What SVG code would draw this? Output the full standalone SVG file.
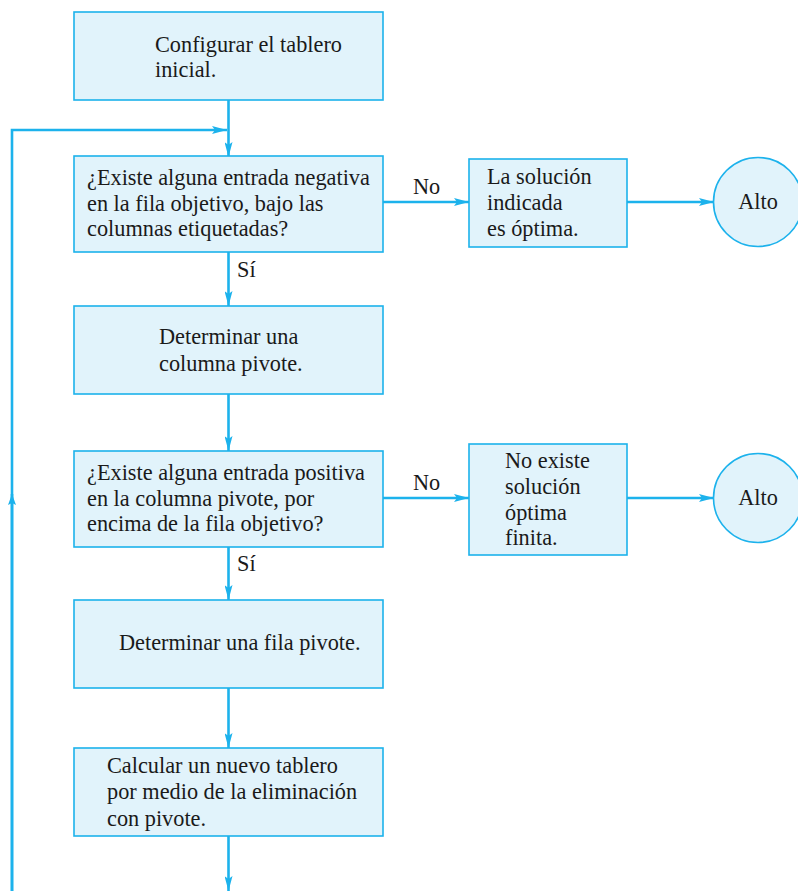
<svg xmlns="http://www.w3.org/2000/svg" width="798" height="891" viewBox="0 0 798 891">
  <style>
    .box { fill: #e1f3fb; stroke: #1cb2ec; stroke-width: 1.6; }
    .wire { fill: none; stroke: #1cb2ec; stroke-width: 2.6; }
    .lbl { font-family: "Liberation Serif", Tinos, "Times New Roman", serif; font-size: 22.3px; fill: #1a1a1a; }
    .mid { text-anchor: middle; }
  </style>
  <defs>
    <marker id="arrow" viewBox="0 0 15 8" refX="15" refY="4" markerWidth="15" markerHeight="8" markerUnits="userSpaceOnUse" orient="auto">
      <path d="M0,0 L15,4 L0,8 L3,4 Z" fill="#1cb2ec"/>
    </marker>
    <marker id="arrow-short" viewBox="0 0 11 8" refX="11" refY="4" markerWidth="11" markerHeight="8" markerUnits="userSpaceOnUse" orient="auto">
      <path d="M0,0 L11,4 L0,8 L2,4 Z" fill="#1cb2ec"/>
    </marker>
  </defs>

  <g id="connectors">
    <line class="wire" x1="228.5" y1="100" x2="228.5" y2="157" marker-end="url(#arrow)"/>
    <polyline class="wire" points="12,891 12,130 227,130" marker-end="url(#arrow)"/>
    <line class="wire" x1="12" y1="891" x2="12" y2="494" marker-end="url(#arrow-short)"/>
    <line class="wire" x1="228.5" y1="252" x2="228.5" y2="306" marker-end="url(#arrow)"/>
    <line class="wire" x1="228.5" y1="394" x2="228.5" y2="451" marker-end="url(#arrow)"/>
    <line class="wire" x1="228.5" y1="547" x2="228.5" y2="600" marker-end="url(#arrow)"/>
    <line class="wire" x1="228.5" y1="688" x2="228.5" y2="748" marker-end="url(#arrow)"/>
    <line class="wire" x1="228.5" y1="836" x2="228.5" y2="891" marker-end="url(#arrow)"/>
    <line class="wire" x1="383" y1="202" x2="469" y2="202" marker-end="url(#arrow)"/>
    <line class="wire" x1="627" y1="202" x2="714" y2="202" marker-end="url(#arrow)"/>
    <line class="wire" x1="383" y1="498" x2="469" y2="498" marker-end="url(#arrow)"/>
    <line class="wire" x1="627" y1="498" x2="714" y2="498" marker-end="url(#arrow)"/>
    <text class="lbl" x="237" y="277">Sí</text>
    <text class="lbl" x="237" y="571">Sí</text>
    <text class="lbl" x="413" y="194">No</text>
    <text class="lbl" x="413" y="490">No</text>
  </g>

  <g id="setup">
    <rect class="box" x="74" y="12" width="309" height="88"/>
    <text class="lbl" x="155" y="52">Configurar el tablero</text>
    <text class="lbl" x="155" y="77">inicial.</text>
  </g>

  <g id="negative-check">
    <rect class="box" x="74" y="156" width="309" height="96"/>
    <text class="lbl" x="87" y="185">¿Existe alguna entrada negativa</text>
    <text class="lbl" x="87" y="211">en la fila objetivo, bajo las</text>
    <text class="lbl" x="87" y="236">columnas etiquetadas?</text>
  </g>

  <g id="optimal">
    <rect class="box" x="469" y="159" width="158" height="88"/>
    <text class="lbl" x="487" y="184">La solución</text>
    <text class="lbl" x="487" y="210">indicada</text>
    <text class="lbl" x="487" y="236">es óptima.</text>
  </g>

  <g id="stop-1">
    <circle class="box" cx="758" cy="202" r="44.5"/>
    <text class="lbl mid" x="758" y="209">Alto</text>
  </g>

  <g id="pivot-column">
    <rect class="box" x="74" y="306" width="309" height="88"/>
    <text class="lbl" x="159" y="344">Determinar una</text>
    <text class="lbl" x="159" y="371">columna pivote.</text>
  </g>

  <g id="positive-check">
    <rect class="box" x="74" y="451" width="309" height="96"/>
    <text class="lbl" x="87" y="480">¿Existe alguna entrada positiva</text>
    <text class="lbl" x="87" y="506">en la columna pivote, por</text>
    <text class="lbl" x="87" y="531">encima de la fila objetivo?</text>
  </g>

  <g id="unbounded">
    <rect class="box" x="469" y="444" width="158" height="111"/>
    <text class="lbl" x="505" y="468">No existe</text>
    <text class="lbl" x="505" y="494">solución</text>
    <text class="lbl" x="505" y="520">óptima</text>
    <text class="lbl" x="505" y="545">finita.</text>
  </g>

  <g id="stop-2">
    <circle class="box" cx="758" cy="498" r="44.5"/>
    <text class="lbl mid" x="758" y="505">Alto</text>
  </g>

  <g id="pivot-row">
    <rect class="box" x="74" y="600" width="309" height="88"/>
    <text class="lbl" x="119" y="650">Determinar una fila pivote.</text>
  </g>

  <g id="eliminate">
    <rect class="box" x="74" y="748" width="309" height="88"/>
    <text class="lbl" x="107" y="773">Calcular un nuevo tablero</text>
    <text class="lbl" x="107" y="799">por medio de la eliminación</text>
    <text class="lbl" x="107" y="826">con pivote.</text>
  </g>
</svg>
